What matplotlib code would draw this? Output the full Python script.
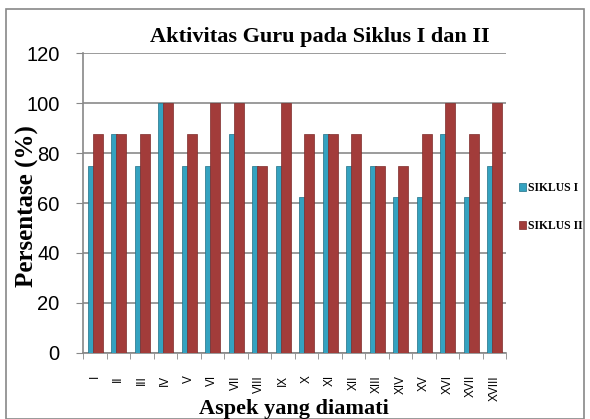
import numpy as np
import matplotlib.pyplot as plt
from matplotlib.patches import Rectangle

aspek = ["I", "II", "III", "IV", "V", "VI", "VII", "VIII", "IX", "X",
         "XI", "XII", "XIII", "XIV", "XV", "XVI", "XVII", "XVIII"]
siklus_1 = [75, 87.5, 75, 100, 75, 75, 87.5, 75, 75, 62.5,
            87.5, 75, 75, 62.5, 62.5, 87.5, 62.5, 75]
siklus_2 = [87.5, 87.5, 87.5, 100, 87.5, 100, 100, 75, 100, 87.5,
            87.5, 87.5, 75, 75, 87.5, 100, 87.5, 100]

serif = ["Liberation Serif", "DejaVu Serif"]

fig = plt.figure(figsize=(5.9, 4.19), dpi=100)
ax = fig.add_axes([83 / 590, 1 - 353 / 419, 423 / 590, 300 / 419])

x = np.arange(len(aspek))
ax.bar(x - 0.175, siklus_1, width=0.25, color="#34a2c0", edgecolor="#1f6f85",
       linewidth=0.5, label="SIKLUS I", zorder=3)
ax.bar(x + 0.13, siklus_2, width=0.44, color="#a23c3a", edgecolor="#7e2b2a",
       linewidth=0.5, label="SIKLUS II", zorder=4)

ax.set_xlim(-0.5, len(aspek) - 0.5)
ax.set_ylim(0, 120)
ax.set_yticks(range(0, 121, 20))
ax.set_xticks(x)
ax.set_xticklabels(aspek, rotation=90, fontsize=8.5, family="Liberation Sans")
ax.set_xticks(np.arange(-0.5, len(aspek)), minor=True)
ax.tick_params(axis="x", which="major", length=0, pad=16)
ax.tick_params(axis="x", which="minor", length=4, color="#888888")
ax.tick_params(axis="y", length=5, color="#888888", labelsize=14.5, pad=12)
for lbl in ax.get_yticklabels():
    lbl.set_family("Liberation Sans")

ax.yaxis.grid(True, color="#8a8a8a", linewidth=1.2, zorder=0)
for side in ["top", "right"]:
    ax.spines[side].set_visible(False)
ax.spines["left"].set_color("#888888")
ax.spines["bottom"].set_color("#888888")
ax.spines["left"].set_linewidth(1.2)
ax.spines["bottom"].set_linewidth(1.2)

fig.text(27 / 590, 1 - 206 / 419, "Persentase (%)", rotation=90,
         ha="center", va="center", family=serif, fontweight="bold", fontsize=18)
fig.text(294 / 590, 1 - 409 / 419, "Aspek yang diamati", ha="center",
         va="center", family=serif, fontweight="bold", fontsize=16)
fig.text(320 / 590, 1 - 37 / 419, "Aktivitas Guru pada Siklus I dan II",
         ha="center", va="center", family=serif, fontweight="bold", fontsize=16)

fig.legend(loc="center left", bbox_to_anchor=(508 / 590, 1 - 207 / 419),
           frameon=False, prop={"family": serif, "weight": "bold", "size": 8.5},
           handlelength=0.6, handleheight=0.6, handletextpad=0.2,
           labelspacing=2.2)

fig.patches.append(Rectangle((6 / 590, 0.0), 1 - 12 / 590, 1 - 9 / 419,
                             transform=fig.transFigure, fill=False,
                             edgecolor="#888888", linewidth=1.2))

fig.savefig("out.png", dpi=100)
